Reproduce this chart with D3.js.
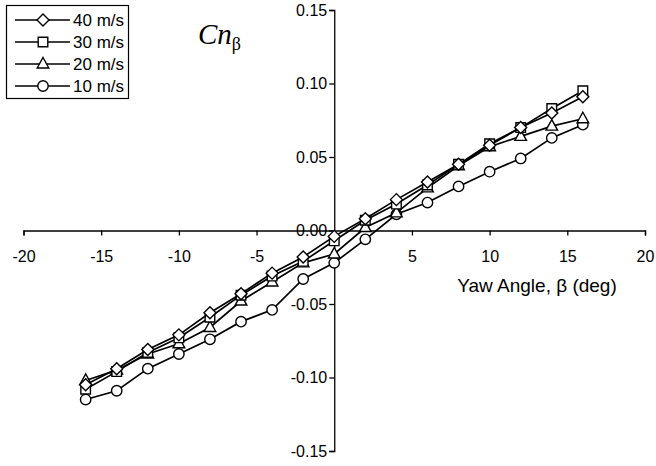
<!DOCTYPE html>
<html>
<head>
<meta charset="utf-8">
<script src="https://cdn.jsdelivr.net/npm/d3@7"></script>
<style>
  body { margin: 0; background: #fff; }
  svg { display: block; }
  text { font-family: "Liberation Sans", Arial, sans-serif; fill: #000; }
</style>
</head>
<body>
<svg width="656" height="466"></svg>
<script>
var yaw = [-16, -14, -12, -10, -8, -6, -4, -2, 0, 2, 4, 6, 8, 10, 12, 14, 16];

var cn40 = [-0.105, -0.094, -0.081, -0.071, -0.056, -0.043, -0.029, -0.018, -0.004, 0.008, 0.021, 0.033, 0.045, 0.058, 0.070, 0.080, 0.091];
var cn30 = [-0.108, -0.096, -0.083, -0.073, -0.059, -0.044, -0.031, -0.021, -0.007, 0.007, 0.018, 0.031, 0.045, 0.059, 0.070, 0.083, 0.095];
var cn20 = [-0.102, -0.095, -0.084, -0.077, -0.066, -0.048, -0.035, -0.022, -0.016, 0.002, 0.012, 0.029, 0.044, 0.057, 0.064, 0.071, 0.076];
var cn10 = [-0.115, -0.109, -0.094, -0.084, -0.074, -0.062, -0.054, -0.033, -0.022, -0.006, 0.011, 0.019, 0.030, 0.040, 0.049, 0.063, 0.072];

var seriesNames = ["40 m/s", "30 m/s", "20 m/s", "10 m/s"];
var seriesValues = [cn40, cn30, cn20, cn10];
var seriesMarkers = ["diamond", "square", "triangle", "circle"];

var xTicks = [-20, -15, -10, -5, 0, 5, 10, 15, 20];
var yTicks = [-0.15, -0.10, -0.05, 0.00, 0.05, 0.10, 0.15];

var svg = d3.select("svg");

var xScale = d3.scaleLinear().domain([-20, 20]).range([23.5, 645]);
var yScale = d3.scaleLinear().domain([-0.15, 0.15]).range([451, 10]);

var x0 = xScale(0), y0 = yScale(0);

var fmt2 = d3.format(".2f");

// y axis through x = 0, ticks to the left
var yAxis = d3.axisLeft(yScale)
  .tickValues(yTicks)
  .tickSize(5)
  .tickFormat(function(d) { return fmt2(d).replace("\u2212", "-"); });

var gy = svg.append("g")
  .attr("transform", "translate(" + x0 + ",0)")
  .call(yAxis);

// x axis through y = 0, ticks downward, no label at 0
var xAxis = d3.axisBottom(xScale)
  .tickValues(xTicks)
  .tickSize(5)
  .tickFormat(function(d) { return d === 0 ? "" : String(d); });

var gx = svg.append("g")
  .attr("transform", "translate(0," + y0 + ")")
  .call(xAxis);

[gx, gy].forEach(function(g) {
  g.select(".domain").attr("stroke", "#000").attr("stroke-width", 1.3);
  g.selectAll(".tick line").attr("stroke", "#000").attr("stroke-width", 1.3);
  g.selectAll(".tick text")
    .attr("font-family", "Liberation Sans, Arial, sans-serif")
    .attr("font-size", 16)
    .attr("fill", "#000");
});
gx.selectAll(".tick text").attr("dy", "0.35em").attr("y", 26);
gy.selectAll(".tick text").attr("x", -7);

function markerPath(type) {
  if (type === "diamond") return "M0,-6L6,0L0,6L-6,0Z";
  if (type === "square") return "M-4.8,-4.8H4.8V4.8H-4.8Z";
  if (type === "triangle") return "M0,-6.5L5.8,4L-5.8,4Z";
  return d3.symbol().type(d3.symbolCircle).size(85)();
}

var line = d3.line()
  .x(function(d) { return xScale(d[0]); })
  .y(function(d) { return yScale(d[1]); });

// draw slowest first so 40 m/s sits on top
for (var s = seriesValues.length - 1; s >= 0; s--) {
  var pts = yaw.map(function(x, i) { return [x, seriesValues[s][i]]; });
  var g = svg.append("g").attr("class", "series");
  g.append("path")
    .datum(pts)
    .attr("fill", "none")
    .attr("stroke", "#000")
    .attr("stroke-width", 1.7)
    .attr("d", line);
  g.selectAll(".mk")
    .data(pts)
    .enter().append("path")
    .attr("class", "mk")
    .attr("transform", function(d) { return "translate(" + xScale(d[0]) + "," + yScale(d[1]) + ")"; })
    .attr("d", markerPath(seriesMarkers[s]))
    .attr("fill", "#fff")
    .attr("stroke", "#000")
    .attr("stroke-width", 1.4);
}

// axis title
svg.append("text")
  .attr("x", 537)
  .attr("y", 292)
  .attr("text-anchor", "middle")
  .attr("font-size", 19)
  .text("Yaw Angle, \u03b2 (deg)");

// Cn_beta label
var cn = svg.append("text")
  .attr("x", 198)
  .attr("y", 44)
  .style("font-family", "Liberation Serif, Times New Roman, serif")
  .attr("font-size", 29);
cn.append("tspan").attr("font-style", "italic").text("Cn");
cn.append("tspan").attr("font-size", 18).attr("dy", 6).text("\u03b2");

// legend
var legend = svg.append("g");
legend.append("rect")
  .attr("x", 6.5).attr("y", 5.5)
  .attr("width", 122).attr("height", 93)
  .attr("fill", "#fff")
  .attr("stroke", "#000")
  .attr("stroke-width", 1.2);

var rowY = d3.scalePoint().domain(seriesNames).range([20, 86]);

seriesNames.forEach(function(name, i) {
  var ly = rowY(name);
  legend.append("line")
    .attr("x1", 15).attr("x2", 70)
    .attr("y1", ly).attr("y2", ly)
    .attr("stroke", "#000").attr("stroke-width", 1.7);
  legend.append("path")
    .attr("transform", "translate(43," + ly + ")")
    .attr("d", markerPath(seriesMarkers[i]))
    .attr("fill", "#fff")
    .attr("stroke", "#000")
    .attr("stroke-width", 1.4);
  legend.append("text")
    .attr("x", 73)
    .attr("y", ly + 6)
    .attr("font-size", 17)
    .text(name);
});
</script>
</body>
</html>
